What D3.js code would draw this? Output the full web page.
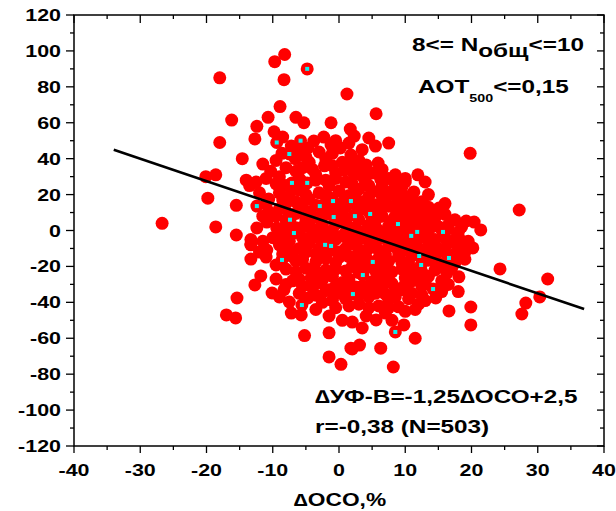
<!DOCTYPE html>
<html><head><meta charset="utf-8">
<script src="https://cdn.jsdelivr.net/npm/d3@7"></script>
<style>body{margin:0;background:#fff}svg{display:block}text{font-family:"Liberation Sans",Arial,sans-serif;font-weight:bold;fill:#000}</style>
</head><body><svg id="c" width="616" height="511"></svg>
<script>
const xTicks = [-40,-30,-20,-10,0,10,20,30,40];
const yTicks = [-120,-100,-80,-60,-40,-20,0,20,40,60,80,100,120];
const fitSlope = -1.25, fitIntercept = 2.5, fitFrom = -34, fitTo = 37;
const redPoints = [
[-9.7,94],[-8.2,98],[-8.3,84],[-4.8,90],[-18,85],[1.2,76],[-8.9,69],[5.6,65],[-10.7,63],[-6.5,63],[-16.2,61.5],[-5.3,60],[-1.2,60],[-12.4,58],[1.7,56.5],[-9.8,55],
[-12.7,51],[-18,49],[-9.4,49],[-8.5,52],[-7.2,47],[-5.8,50],[-3.8,49.8],[-2.3,52],[-1.2,47.6],[1.5,48.7],[2.3,52.6],[4.5,51.5],[7.5,48.7],[-4.7,46],[0.2,46],
[-14.6,40],[-9.5,39],[-8.6,43],[-7.5,42.6],[-6.6,40],[-4.5,38],[-3,43.7],[-1,43],[1.8,42],[0.5,38],[-2.2,36],[3.0,39],[4.1,36.5],[5.9,37.6],[19.8,43],[-5.5,35],[2.2,35],
[-20.1,30],[-18.6,31],[-14,28],[-12.5,27],[-10.3,33],[-9,30],[-7.1,26.5],[-6,29],[-4.8,26.5],[-3.5,31],[-2,28],[-0.5,32],[1,27],[2.3,31],[3.8,29],[5,32],[6.3,28.6],[7.5,29],[8.5,26],[11.9,31],[-8,25],[-1.5,25],[4.5,25],[9.5,24.5],
[-19.8,18],[-15.5,14],[-10.6,17.5],[-9,21],[-7.5,19],[-6,22.5],[-4.5,17.5],[-3,21],[-1.5,18.5],[0,22],[1.5,19.5],[3,23],[4.5,19],[6,21.5],[7,17],[8.9,18],[10.3,16],[11.3,21.5],[-0.9,16.4],[1.8,16.4],[2.5,14.5],[5.8,14.5],[-5.5,15],
[-12.4,13.6],[-10.6,10.5],[-9,12],[-7.5,9],[-6,13],[-4.5,10.5],[-2.9,13.6],[-1.5,10],[0,12],[-0.8,7.5],[2.3,8.6],[4.7,9.2],[3.5,12],[6,11],[7.5,13.5],[8.5,8],[9.5,12],[11.6,9.7],[12.8,8.6],[14,11],[15.1,12.5],[27.2,11.4],[-8,6],[-5,6],[-3,7],[1,5.5],[5.5,5.5],[10,5],[13.5,5],
[-26.7,4],[-18.6,2],[-12.4,1.4],[-10.9,4.7],[-9.4,1.4],[-7.4,6],[-6.8,-1.4],[-5.5,2],[-4,-1],[-2.5,3],[-1,0],[0.5,-3],[1.5,2],[3,-1],[4.5,3],[6,0],[7.5,2.5],[8.9,3.6],[9.5,-1],[11,1.5],[11.8,-0.8],[10.9,-3],[13,-2],[14,2],[15.1,2],[15.7,-0.8],[16.5,1],[17.8,-3.6],[18.1,-4.2],[19.2,5.3],[20.4,4.7],[21.4,0.3],[-15.5,-2.5],[-13.3,-5],[-13.3,-7.5],[-3,-4],[2,-4.5],[6.5,-4],[12,-4],
[-13.3,-8],[-10.9,-10.9],[-7.5,-6],[-6,-10],[-4.5,-7],[-2.1,-8],[-1.2,-8.6],[0,-12],[1.5,-7],[3,-10.5],[4.5,-6],[6,-11],[7.5,-8],[9,-12],[10.5,-7],[12,-10],[13.5,-6.5],[15,-10],[16.5,-7],[18,-9],[20.2,-9.7],[-3.5,-13],[-8.5,-13],[4,-14],[11,-14],[1.5,-14.5],
[-13.3,-15.9],[-11,-14.8],[-9.5,-19.2],[-8.6,-16.4],[-6.5,-17],[-5,-21],[-3.5,-17.5],[-2,-22],[-0.5,-18],[1,-22.5],[2.5,-18.5],[4,-21],[5.1,-17.5],[6.5,-20],[8,-23],[9.5,-18],[11,-21.5],[12.1,-14.2],[12.4,-19.2],[13.5,-16.5],[14.5,-22],[16.6,-15.3],[16.3,-23.7],[18.1,-25.8],[24.3,-21.4],[-11.8,-25.3],[-4.2,-26.5],[3.6,-24.8],[6,-25],[-1,-25.5],[10,-26.5],
[-12.7,-30.3],[-10.1,-34.8],[-8.3,-33],[-7,-28],[-5.5,-31],[-3,-29],[-1.5,-33],[0.5,-29],[2.1,-35.4],[3.5,-31],[5,-28.5],[6.5,-33],[8,-29.5],[9.5,-33],[11,-28],[12.5,-31],[14.2,-32.6],[15.5,-28],[18,-34],[31.5,-27],[-4.7,-37.6],
[-15.4,-37.6],[-7.5,-39.8],[-5.6,-41.5],[-7.2,-46],[-5.7,-47],[-2.5,-40],[-0.5,-43],[1,-38],[3,-41],[4.5,-37],[6,-42],[7.5,-38.5],[9,-42.5],[10.5,-38],[12,-41],[14.6,-37.6],[16.6,-44.8],[19.9,-42.6],[30.3,-37],[28.2,-40.4],[27.6,-46.5],
[-17,-47],[-15.6,-48.7],[-1.5,-47.6],[4.1,-47.6],[5.6,-49.8],[3.5,-54.3],[2,-51],[7,-46],[9.8,-52.6],[0.5,-50],[19.9,-52.6],[8,-50],
[-5.2,-58.5],[-1.5,-57],[8.5,-56.5],[11.5,-60],[1.8,-65.5],[3.1,-63.8],[2,-66],[6.3,-65.5],[-1.5,-70.4],[0.3,-74.5],[8.2,-76],
[-6,44],[-0.5,50],[3.5,45],[5.5,47],
[-11.5,37],[-5,41],[-2,40],[1.8,38.5],[-8,35],[-6.5,33],[-4,34],[-1,36],[0.8,33.5],[3.5,34],[6.5,34],[8.5,31],[10,29],
[-11,29],[-9.5,26],[-5.5,27],[-3.5,28],[-0.5,29],[2,26],[4,27],[6.5,25],[8,22],[10,27],[13,27],[-13.5,25],
[-12,21],[-8.5,17],[-7,23],[-5,20],[-2,19],[0.8,17],[2.5,21],[5,22],[7.5,20],[9.5,21],[11,18],[12.5,16],[13.5,20],
[-11,14.5],[-8,15],[-6.5,16],[-3.5,14],[-1.5,13.5],[1,13],[3.5,16],[5,13],[6.5,16],[8.5,14],[10.5,12],[12,14],[13.5,13],[16,15],
[-11.5,8],[-9.5,8],[-6.5,9.5],[-4,8],[-2,9],[0.5,9],[3,6],[5,7],[6.5,8],[8,5.5],[9.5,8.5],[11,6.5],[12.5,4],[14.5,7],[16,9],[17.5,6],
[-8,3],[-6.5,1.5],[-4.5,4],[-3,1],[-0.5,3.5],[1,-1],[2.5,1.5],[4,0],[5.5,2],[7,-1],[8.5,0.5],[10,2],[12.5,1],[16.5,3],[18.5,2],[18,-1],
[-8.5,-2],[-10,-4],[-5.5,-4],[-2,-3],[-0.5,-5],[1,-3.5],[3.5,-4],[5,-2],[8,-4],[9.5,-5],[11,-4],[13.5,-3],[14.5,-5],[16,-4],[19.5,-6],[-11.5,-6],
[-9,-8],[-7.5,-11],[-5,-12],[-3,-10],[-1.5,-11.5],[1,-10],[2.5,-8],[4.5,-10],[5.5,-7.5],[7,-13],[8.5,-9],[10,-11],[11.5,-8],[13,-12],[14.5,-8.5],[16,-12],[17.5,-13],[19,-12],[-12,-12],
[-7,-14.5],[-5.5,-16],[-2,-15.5],[0,-15],[2.5,-14.5],[3.5,-17],[6,-15.5],[7.5,-17],[9,-14.5],[10.5,-17.5],[14.5,-14],[15,-18],[17.5,-18],[19,-16],
[-8,-21.5],[-6.5,-23],[-3.5,-23],[-0.5,-21.5],[2,-20],[3,-23.5],[5.5,-22.5],[7,-24],[9.5,-21.5],[10.5,-24.5],[12.5,-23],[13.5,-25.5],[15.5,-20.5],[17,-21],
[-9.5,-27],[-8,-30],[-6,-27],[-4,-32],[-2.5,-27.5],[-0.5,-31],[1.5,-27],[2.5,-31.5],[4.5,-33],[6,-30],[7,-27],[8.5,-32],[10,-30],[12,-27],[13,-29],[16.5,-30],
[-9,-37],[-6,-35],[-3.5,-36],[-2,-33.5],[0,-35],[1.5,-32],[3,-36],[5.5,-35],[7,-35.5],[8.5,-37],[11,-35],[12.5,-36],[15.5,-34],
[-3.5,-44],[-1,-39],[1.5,-42],[4.5,-43],[7.5,-43],[10,-45],[11.5,-44],[13,-39]
];
const cyanPoints = [
[-4.8,90],[-9.4,49],[-5.8,50],[-7.5,42.6],[-7.1,26.5],[-4.8,26.5],[-12.4,13.6],[-0.9,16.4],[1.8,16.4],[-2.9,13.6],[-0.8,7.5],[2.4,8],[4.7,9.2],[-7.4,6],[-6.8,-1.4],[8.9,3.6],[11.8,-0.8],[10.9,-3],[15.7,-0.8],[-2.1,-8],[-1.2,-8.6],[12.1,-14.2],[12.4,-19.2],[16.6,-15.3],[5.1,-17.5],[3.6,-24.8],[-8.6,-16.4],[2.1,-35.4],[14.2,-32.6],[-5.6,-41.5],[8.5,-56.5]
];

const svg = d3.select("#c");
const L=74,R=604,T=15,B=446, SX=1.3;
const x = d3.scaleLinear().domain([-40,40]).range([L,R]);
const y = d3.scaleLinear().domain([-120,120]).range([B,T]);

const g = svg.append("g").attr("stroke","#000").attr("stroke-width",1.3);
const xMinor = d3.range(-35,40,10), yMinor = d3.range(-110,120,20);
xTicks.forEach(v=>{g.append("line").attr("x1",x(v)).attr("x2",x(v)).attr("y1",B).attr("y2",B+7);
  g.append("line").attr("x1",x(v)).attr("x2",x(v)).attr("y1",T).attr("y2",T+8);});
xMinor.forEach(v=>{g.append("line").attr("x1",x(v)).attr("x2",x(v)).attr("y1",B).attr("y2",B+4);
  g.append("line").attr("x1",x(v)).attr("x2",x(v)).attr("y1",T).attr("y2",T+4);});
yTicks.forEach(v=>{g.append("line").attr("x1",L-8).attr("x2",L).attr("y1",y(v)).attr("y2",y(v));
  g.append("line").attr("x1",R-7).attr("x2",R).attr("y1",y(v)).attr("y2",y(v));});
yMinor.forEach(v=>{g.append("line").attr("x1",L-4).attr("x2",L).attr("y1",y(v)).attr("y2",y(v));
  g.append("line").attr("x1",R-4).attr("x2",R).attr("y1",y(v)).attr("y2",y(v));});

svg.append("g").selectAll("circle").data(redPoints).join("circle")
  .attr("cx",d=>x(d[0])).attr("cy",d=>y(d[1])).attr("r",6.5).attr("fill","#ff0000");
svg.append("line").attr("x1",x(fitFrom)).attr("y1",y(fitSlope*fitFrom+fitIntercept))
  .attr("x2",x(fitTo)).attr("y2",y(fitSlope*fitTo+fitIntercept)).attr("stroke","#000").attr("stroke-width",2.6);
svg.append("g").selectAll("rect").data(cyanPoints).join("rect")
  .attr("x",d=>x(d[0])-2).attr("y",d=>y(d[1])-2).attr("width",4).attr("height",4).attr("fill","#11eeee");

svg.append("rect").attr("x",L).attr("y",T).attr("width",R-L).attr("height",B-T)
  .attr("fill","none").attr("stroke","#000").attr("stroke-width",1.5);

function stext(px,py,anchor,size){
  const gg=svg.append("g").attr("transform",`translate(${px},${py}) scale(${SX},1)`);
  return gg.append("text").attr("text-anchor",anchor).attr("font-size",size);
}
xTicks.forEach(v=>stext(x(v),476,"middle",16.5).text(v));
yTicks.forEach(v=>stext(61,y(v)+6,"end",16.5).text(v));

let t=stext(412,51,"start",18.7);
t.append("tspan").text("8<= N");
t.append("tspan").attr("dy",6).text("общ");
t.append("tspan").attr("dy",-6).text("<=10");
t=stext(418,93,"start",18.7);
t.append("tspan").text("AOT");
t.append("tspan").attr("dy",9).attr("font-size",11).text("500");
t.append("tspan").attr("dy",-9).text("<=0,15");
stext(315,403,"start",18.7).text("∆УФ-В=-1,25∆ОСО+2,5");
stext(315,433,"start",18.7).text("r=-0,38 (N=503)");
stext(340,506,"middle",17.5).text("∆OCO,%");
</script></body></html>
